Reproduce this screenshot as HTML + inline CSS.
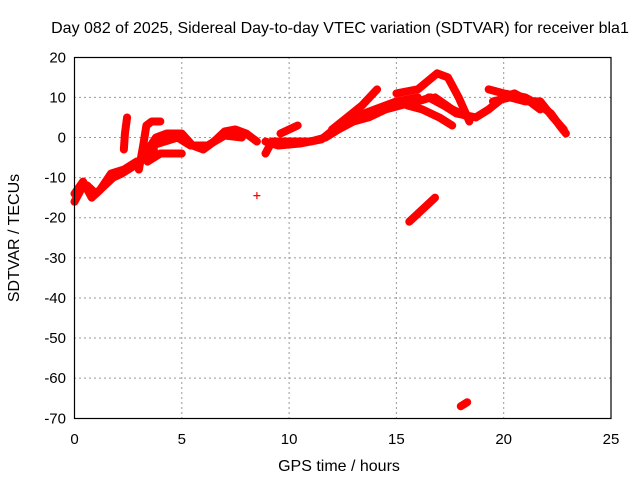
<!DOCTYPE html>
<html><head><meta charset="utf-8"><style>
body{margin:0;background:#fff}
svg{display:block;font-family:"Liberation Sans",sans-serif}
</style></head><body>
<svg id="chart" width="640" height="480" viewBox="0 0 640 480">
<text x="340" y="33" font-size="16" text-anchor="middle">Day 082 of 2025, Sidereal Day-to-day VTEC variation (SDTVAR) for receiver bla1</text>
<text x="339" y="471" font-size="16" text-anchor="middle">GPS time / hours</text>
<text transform="translate(19,238) rotate(-90)" font-size="16" text-anchor="middle">SDTVAR / TECUs</text>
<g id="grid"></g>
<g id="ticks"></g>
<g id="marks"></g>
<rect x="74.5" y="57.5" width="536.5" height="361" fill="none" stroke="#000" stroke-width="1.2"/>
</svg>
<script>
const xTicks=[0,5,10,15,20,25];
const yTicks=[20,10,0,-10,-20,-30,-40,-50,-60,-70];
const track1=[[0,-16],[0.3,-13],[0.6,-12],[1,-14],[1.4,-12],[1.8,-10],[2.2,-9],[2.8,-7],[3.3,-5],[3.7,-3]];
const track1b=[[0,-14],[0.4,-11],[0.8,-15],[1.2,-13],[1.7,-9],[2.3,-8],[2.9,-6]];
const track2=[[3.0,-8],[3.2,-2],[3.35,3],[3.6,4],[4.0,4]];
const track3=[[3.3,-4],[3.8,0],[4.3,1],[5,1],[5.5,-2],[6,-3],[6.5,-1],[7,1.5],[7.5,2],[8,1],[8.5,-1]];
const track3b=[[3.0,-6],[3.6,-2],[4.2,-1],[4.8,0],[5.4,-2],[6.2,-2],[7,0.5],[7.8,0]];
const track4=[[3.4,-6],[4,-4],[4.6,-4],[5,-4]];
const track5=[[2.3,-3],[2.35,1],[2.45,5]];
const track6=[[8.9,-4],[9.2,-1],[10,-1],[11,-1],[11.7,0],[12.3,2],[13,4],[13.7,5],[14.5,7],[15.2,8],[16,9],[16.6,10]];
const track6b=[[8.9,-1],[9.5,-2],[10.5,-1.5],[11.5,-0.5],[12.2,2.5],[13,5],[14,7],[15,9],[16,10]];
const track7=[[12,2],[12.7,5],[13.4,8],[14.1,12]];
const track7b=[[9.6,1],[10.4,3]];
const track8=[[15,11],[16,12],[16.9,16],[17.4,15],[17.9,10],[18.4,4]];
const track9=[[15.5,8],[16.2,7],[17,5],[17.6,3]];
const track9b=[[16.8,10],[17.6,7],[18.4,5]];
const track10=[[16.5,10],[17.2,8],[17.8,6],[18.7,5],[19.3,7],[20,10],[20.5,11],[21.2,9],[21.7,7]];
const track11=[[19.3,12],[20,11],[21,10],[21.7,8],[22.2,6],[22.6,3],[22.9,1]];
const track11b=[[19.5,9],[20.3,10],[21,9],[21.7,9],[22.3,5],[22.8,2]];
const track12=[[15.6,-21],[16.2,-18],[16.8,-15]];
const track13=[[18.0,-67],[18.3,-66]];
const tracks=[track1,track1b,track2,track3,track3b,track4,track5,track6,track6b,track7,track7b,track8,track9,track9b,track10,track11,track11b,track12,track13];
const isolated=[[8.5,-14.5]];
const X=h=>74.5+h*21.46;
const Y=v=>137.5-v*4.011;
const NS='http://www.w3.org/2000/svg';
const grid=document.getElementById('grid'),tk=document.getElementById('ticks'),mk=document.getElementById('marks');
function el(t,a,p){const e=document.createElementNS(NS,t);for(const k in a)e.setAttribute(k,a[k]);p.appendChild(e);return e;}
xTicks.forEach(t=>{
 if(t>0&&t<25){const l=el('line',{x1:X(t),x2:X(t),y1:57,y2:419,stroke:'#999','stroke-dasharray':'2,3'},grid);
 
 }
 const tx=el('text',{x:X(t),y:444,'font-size':15,'text-anchor':'middle'},tk);tx.textContent=t;
 
 
});
yTicks.forEach(t=>{
 if(t<20&&t>-70){const l=el('line',{x1:74,x2:611,y1:Y(t),y2:Y(t),stroke:'#999','stroke-dasharray':'2,3'},grid);
 
 }
 const tx=el('text',{x:66,y:Y(t)+5,'font-size':15,'text-anchor':'end'},tk);tx.textContent=t;
 
 
});
tracks.forEach((tr,i)=>{
 const p=el('polyline',{points:tr.map(d=>X(d[0])+','+Y(d[1])).join(' '),fill:'none',stroke:'#f00','stroke-width':8,'stroke-linejoin':'round','stroke-linecap':'round'},mk);
 
 
});
isolated.forEach(d=>{
 const g=el('path',{d:`M${X(d[0])-3.5},${Y(d[1])}h7M${X(d[0])},${Y(d[1])-3.5}v7`,stroke:'#f00','stroke-width':1.2},mk);
 
 
});
</script>
</body></html>
